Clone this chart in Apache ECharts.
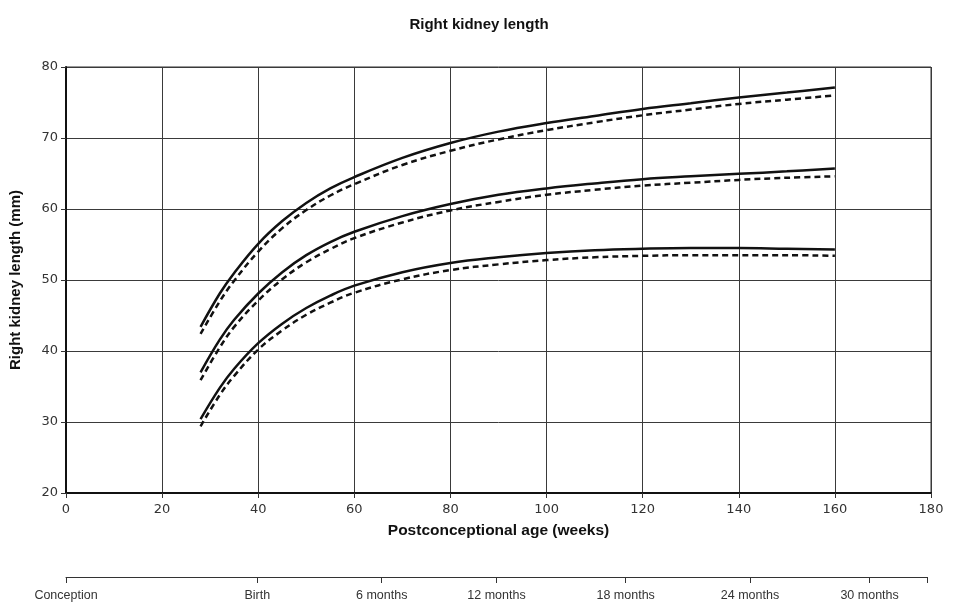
<!DOCTYPE html>
<html>
<head>
<meta charset="utf-8">
<script src="https://cdn.jsdelivr.net/npm/echarts@6/dist/echarts.min.js"></script>
<style>
  html, body { margin: 0; padding: 0; background: #fff; }
  #chart { width: 953px; height: 607px; }
</style>
</head>
<body>
<div id="chart"></div>
<script>
// postconceptional age (weeks)
const weeks = [28, 32, 35, 40, 45, 50, 55, 60, 70, 80, 90, 100, 110, 120, 130, 140, 150, 160]

// solid / dashed pairs, upper, middle and lower curves (mm)
const upperSolid  = [43.4, 48.1, 51.0, 55.1, 58.3, 60.85, 62.9, 64.5, 67.2, 69.3, 70.9, 72.1, 73.1, 74.1, 74.9, 75.7, 76.4, 77.1]
const upperDashed = [42.4, 47.0, 49.9, 54.0, 57.3, 59.85, 61.9, 63.5, 66.2, 68.2, 69.8, 71.1, 72.2, 73.2, 74.0, 74.8, 75.4, 76.0]
const midSolid    = [37.0, 41.6, 44.4, 48.1, 51.1, 53.5, 55.35, 56.8, 59.0, 60.7, 62.0, 62.9, 63.6, 64.2, 64.6, 64.95, 65.3, 65.7]
const midDashed   = [35.9, 40.5, 43.4, 47.1, 50.1, 52.5, 54.35, 55.9, 58.1, 59.8, 61.0, 62.0, 62.7, 63.3, 63.7, 64.1, 64.4, 64.6]
const lowSolid    = [30.4, 34.8, 37.5, 41.1, 43.85, 46.05, 47.8, 49.2, 51.1, 52.4, 53.2, 53.8, 54.2, 54.4, 54.5, 54.5, 54.4, 54.3]
const lowDashed   = [29.4, 33.8, 36.5, 40.2, 42.9, 45.1, 46.8, 48.2, 50.1, 51.4, 52.2, 52.8, 53.2, 53.4, 53.5, 53.5, 53.5, 53.4]

// age scale under the chart
const ageTicks = [0, 40, 66, 90, 117, 143, 168, 180]
const ageLabels = ['Conception', 'Birth', '6 months', '12 months', '18 months', '24 months', '30 months']

const chart = echarts.init(document.getElementById('chart'))

const pairs = vals => weeks.map((w, i) => [w, vals[i]])

const solid = (name, vals) => ({
  name, type: 'line', data: pairs(vals), smooth: 0.4, showSymbol: false,
  lineStyle: { color: '#111', width: 2.5 }
})
const dashed = (name, vals) => ({
  name, type: 'line', data: pairs(vals), smooth: 0.4, showSymbol: false,
  lineStyle: { color: '#111', width: 2.5, type: [6, 4] }
})

const tickFont = { fontFamily: 'DejaVu Sans', fontSize: 13, color: '#333' }

const option = {
  animation: false,
  title: {
    text: 'Right kidney length',
    left: 474, top: 12, textAlign: 'center',
    textStyle: { fontFamily: 'Liberation Sans', fontSize: 15, fontWeight: 'bold', color: '#111' }
  },
  grid: [
    { left: 66, right: 22, top: 67, bottom: 114, show: true, borderColor: '#333', borderWidth: 1 },
    { left: 66, right: 26, top: 577, height: 0 }
  ],
  xAxis: [
    {
      type: 'value', min: 0, max: 180, interval: 20,
      name: 'Postconceptional age (weeks)', nameLocation: 'middle', nameGap: 30,
      nameTextStyle: { fontFamily: 'Liberation Sans', fontSize: 15.5, fontWeight: 'bold', color: '#111' },
      axisLine: { onZero: false, lineStyle: { color: '#111', width: 2 } },
      axisTick: { show: true, length: 5, lineStyle: { color: '#333' } },
      axisLabel: Object.assign({ margin: 10 }, tickFont),
      splitLine: { show: true, lineStyle: { color: '#3a3a3a', width: 1 } }
    },
    {
      gridIndex: 1, type: 'value', min: 0, max: 180,
      axisLine: { onZero: false, lineStyle: { color: '#333', width: 1 } },
      axisTick: { show: true, length: 6, customValues: ageTicks, lineStyle: { color: '#333' } },
      axisLabel: {
        customValues: ageTicks.slice(0, 7),
        formatter: v => ageLabels[ageTicks.indexOf(v)] || '',
        fontFamily: 'Liberation Sans', fontSize: 12.5, color: '#333', margin: 12
      },
      splitLine: { show: false }
    }
  ],
  yAxis: [
    {
      type: 'value', min: 20, max: 80, interval: 10,
      name: 'Right kidney length (mm)', nameLocation: 'middle', nameGap: 43,
      nameTextStyle: { fontFamily: 'Liberation Sans', fontSize: 15, fontWeight: 'bold', color: '#111' },
      axisLine: { show: true, lineStyle: { color: '#111', width: 2 } },
      axisTick: { show: true, length: 5, lineStyle: { color: '#333' } },
      axisLabel: Object.assign({ margin: 8 }, tickFont),
      splitLine: { show: true, lineStyle: { color: '#3a3a3a', width: 1 } }
    },
    { gridIndex: 1, type: 'value', min: 0, max: 1, show: false }
  ],
  series: [
    solid('Upper', upperSolid),
    dashed('Upper (dashed)', upperDashed),
    solid('Middle', midSolid),
    dashed('Middle (dashed)', midDashed),
    solid('Lower', lowSolid),
    dashed('Lower (dashed)', lowDashed)
  ]
}

option && chart.setOption(option)
</script>
</body>
</html>
